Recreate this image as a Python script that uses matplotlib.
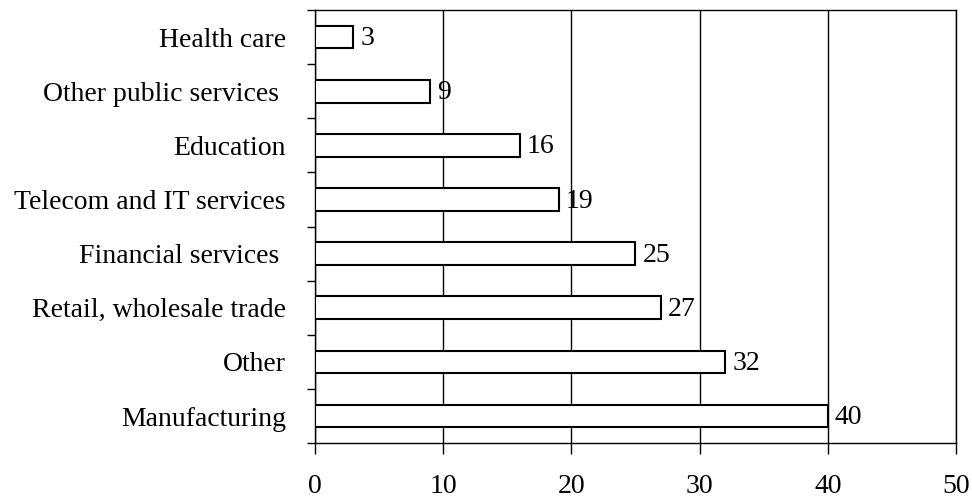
import numpy as np
import matplotlib.pyplot as plt

# Datos (de abajo hacia arriba)
sectores = ['Manufacturing', 'Other', 'Retail, wholesale trade', 'Financial services ',
            'Telecom and IT services', 'Education', 'Other public services ', 'Health care']
valores = [40, 32, 27, 25, 19, 16, 9, 3]
x_ticks = [0, 10, 20, 30, 40, 50]

plt.rcParams['font.family'] = ['Liberation Serif', 'DejaVu Serif']

fig = plt.figure(figsize=(9.72, 4.99), dpi=100)
ax = fig.add_axes([0.324, 0.112, 0.6595, 0.868])

y = np.arange(len(sectores))
barras = ax.barh(y, valores, height=0.42, color='white', edgecolor='black', linewidth=1.5, zorder=3)

# Etiquetas de valor al final de cada barra
for yi, v in zip(y, valores):
    ax.annotate(str(v), (v, yi), xytext=(5, 1), textcoords='offset points',
                va='center_baseline', ha='left', fontsize=20)

ax.set_xlim(0, 50)
ax.set_ylim(-0.5, len(sectores) - 0.5)
ax.set_xticks(x_ticks)
ax.set_yticks(y)
ax.set_yticklabels(sectores, fontsize=20)
ax.set_yticks(np.arange(-0.5, len(sectores)), minor=True)
ax.tick_params(axis='y', which='major', length=0, pad=21)
ax.tick_params(axis='y', which='minor', length=6, width=1, direction='out')
ax.tick_params(axis='x', labelsize=20, length=8, width=1, direction='out', pad=14)

ax.grid(axis='x', color='black', linewidth=1, zorder=0)
for s in ax.spines.values():
    s.set_linewidth(1)

plt.savefig('out.png', dpi=100)
